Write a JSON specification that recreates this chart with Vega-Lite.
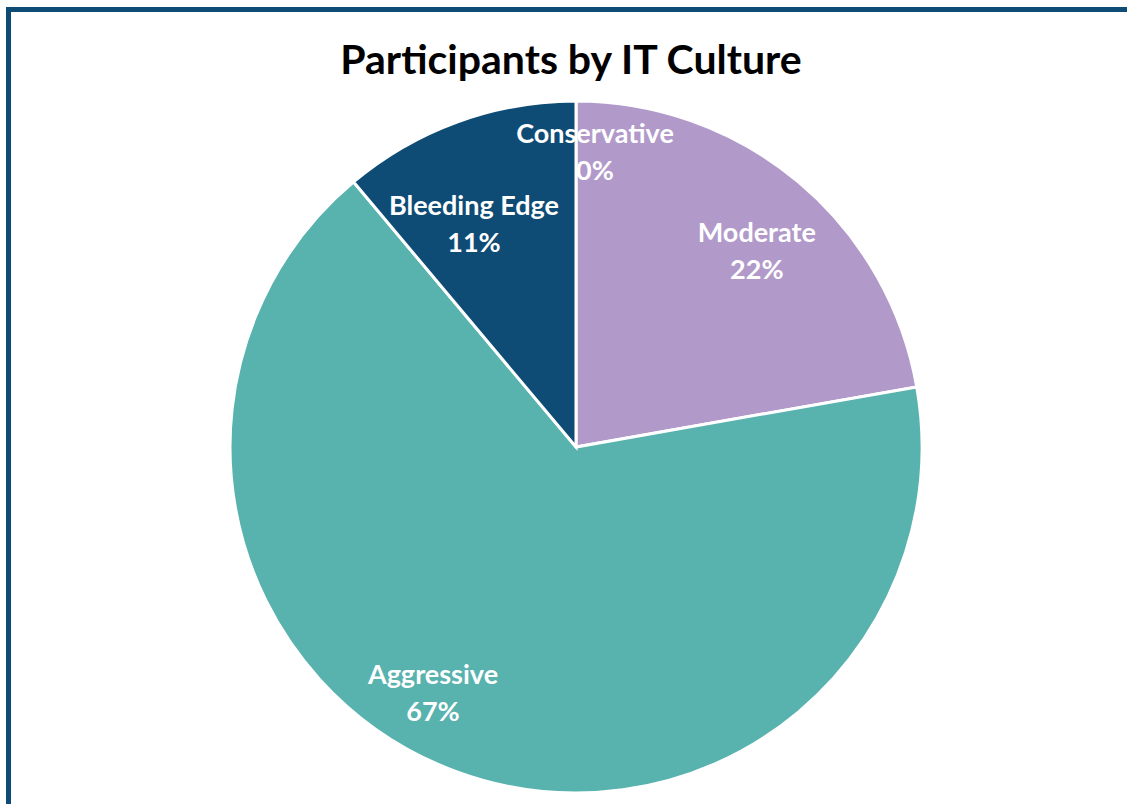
{
  "$schema": "https://vega.github.io/schema/vega-lite/v6.json",
  "width": 1135,
  "height": 875,
  "autosize": {"type": "none"},
  "padding": {"left": 8.5, "top": 9.5, "right": 0, "bottom": 0},
  "background": "white",
  "view": {"stroke": "#0F4C75", "strokeWidth": 5, "fill": "white"},
  "title": {
    "text": "Participants by IT Culture",
    "font": "Lato",
    "fontSize": 41,
    "fontWeight": "bold",
    "color": "#000000",
    "anchor": "middle",
    "frame": "group",
    "orient": "top",
    "baseline": "alphabetic",
    "offset": -75,
    "dx": -5,
    "dy": 30
  },
  "data": {
    "values": [
      {"category": "Conservative", "count": 0, "idx": 1},
      {"category": "Moderate", "count": 2, "idx": 2},
      {"category": "Aggressive", "count": 6, "idx": 3},
      {"category": "Bleeding Edge", "count": 1, "idx": 4}
    ]
  },
  "transform": [
    {"joinaggregate": [{"op": "sum", "field": "count", "as": "total"}]},
    {"calculate": "datum.category + '\\n' + format(datum.count / datum.total, '.0%')", "as": "label"}
  ],
  "encoding": {
    "theta": {"field": "count", "type": "quantitative", "stack": true},
    "order": {"field": "idx", "type": "quantitative"}
  },
  "layer": [
    {
      "mark": {"type": "arc", "outerRadius": 346, "stroke": "white", "strokeWidth": 3},
      "encoding": {
        "color": {
          "field": "category",
          "type": "nominal",
          "scale": {
            "domain": ["Conservative", "Moderate", "Aggressive", "Bleeding Edge"],
            "range": ["#7F7F7F", "#B19ACA", "#58B2AE", "#0F4C75"]
          },
          "legend": null
        }
      }
    },
    {
      "mark": {"type": "text", "radius": 272, "dx": 19, "dy": -40, "font": "Lato", "fontSize": 27, "fontWeight": "bold", "color": "white", "lineBreak": "\n", "lineHeight": 37, "align": "center", "baseline": "middle"},
      "encoding": {"text": {"condition": {"test": "datum.category === 'Conservative'", "field": "label"}, "value": ""}}
    },
    {
      "mark": {"type": "text", "radius": 272, "dx": 6, "dy": -5, "font": "Lato", "fontSize": 27, "fontWeight": "bold", "color": "white", "lineBreak": "\n", "lineHeight": 37, "align": "center", "baseline": "middle"},
      "encoding": {"text": {"condition": {"test": "datum.category === 'Moderate'", "field": "label"}, "value": ""}}
    },
    {
      "mark": {"type": "text", "radius": 272, "dx": -9, "dy": 16, "font": "Lato", "fontSize": 27, "fontWeight": "bold", "color": "white", "lineBreak": "\n", "lineHeight": 37, "align": "center", "baseline": "middle"},
      "encoding": {"text": {"condition": {"test": "datum.category === 'Bleeding Edge'", "field": "label"}, "value": ""}}
    },
    {
      "mark": {"type": "text", "radius": 272, "dx": -50, "dy": -27, "font": "Lato", "fontSize": 27, "fontWeight": "bold", "color": "white", "lineBreak": "\n", "lineHeight": 37, "align": "center", "baseline": "middle"},
      "encoding": {"text": {"condition": {"test": "datum.category === 'Aggressive'", "field": "label"}, "value": ""}}
    }
  ]
}
